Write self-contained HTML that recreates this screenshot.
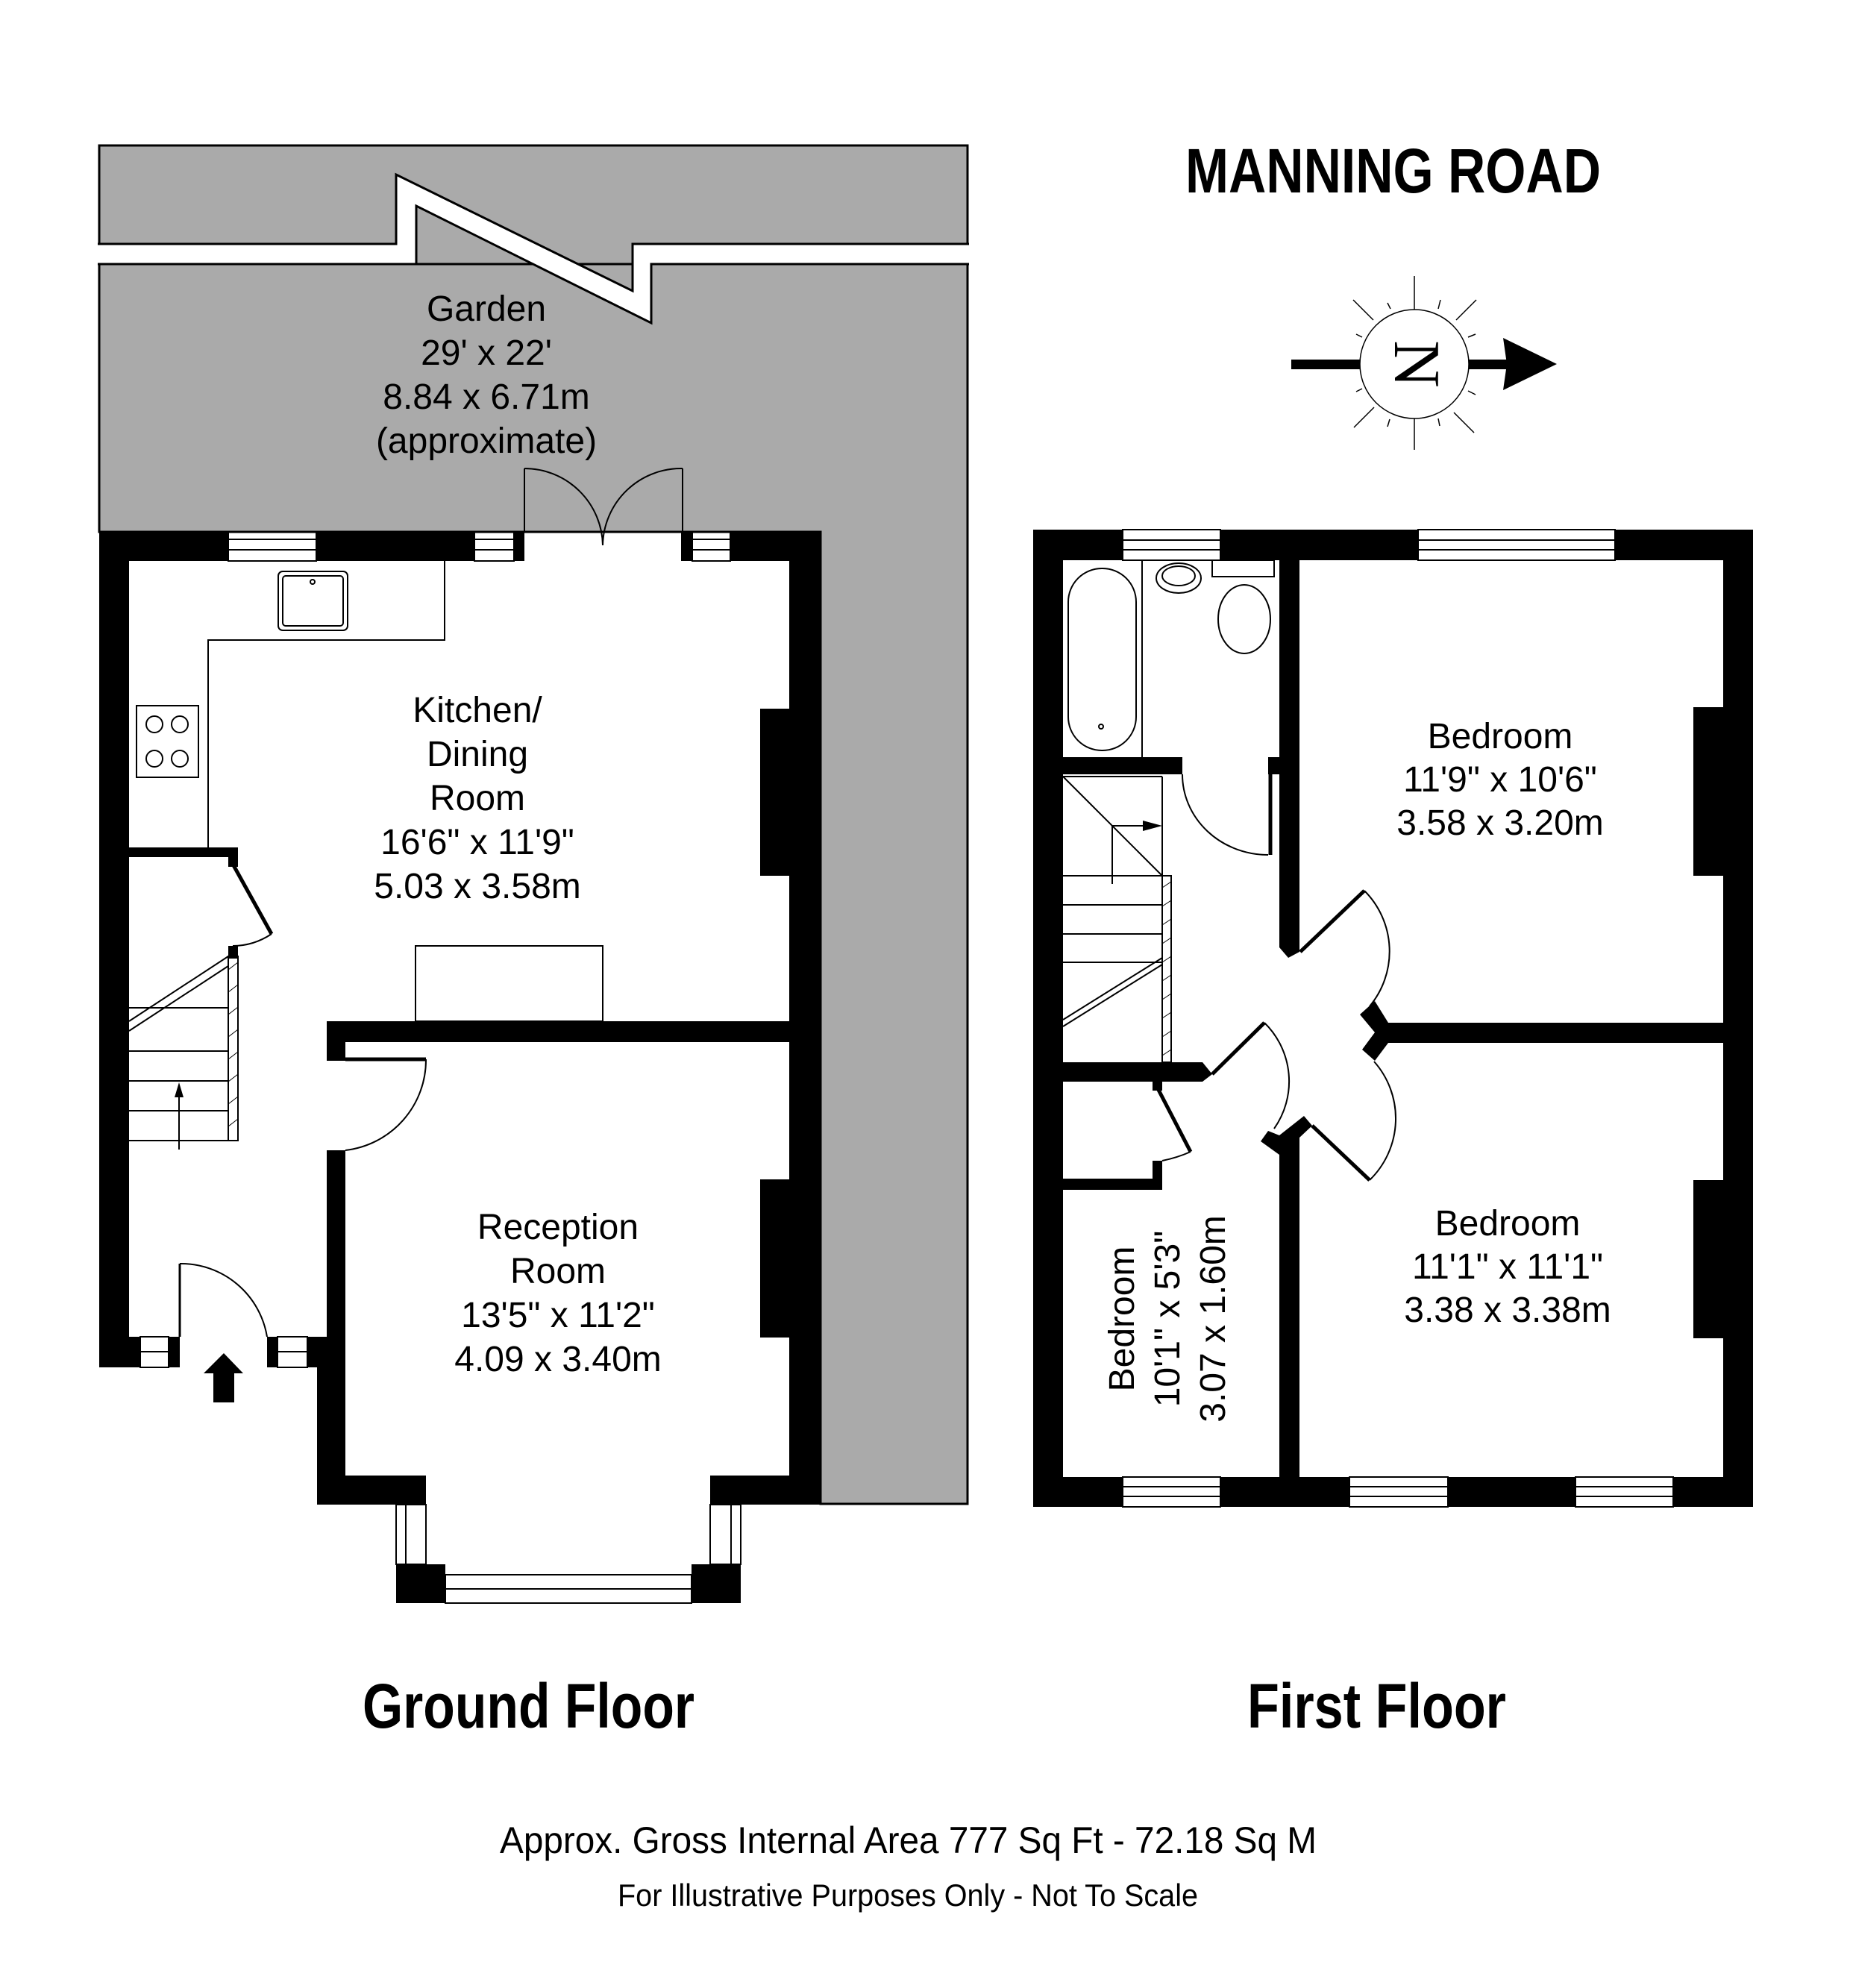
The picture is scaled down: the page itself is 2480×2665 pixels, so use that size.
<!DOCTYPE html>
<html><head><meta charset="utf-8"><style>
html,body{margin:0;padding:0;background:#fff}
svg{display:block}
text{font-family:"Liberation Sans",sans-serif;fill:#000}
</style></head><body>
<svg width="2480" height="2665" viewBox="0 0 2480 2665" xmlns="http://www.w3.org/2000/svg">
<!-- Garden -->
<rect x="133" y="195" width="1164" height="159" fill="#aaa" stroke="#000" stroke-width="3"/>
<path d="M133 354 H1297 V2016 H1100 V713 H133 Z" fill="#aaa" stroke="#000" stroke-width="3"/>
<polygon points="120,327 531,327 531,234 848,390 848,327 1310,327 1310,354 873,354 873,433 558,276 558,354 120,354" fill="#fff" stroke="#000" stroke-width="3"/>
<rect x="100" y="325" width="31" height="32" fill="#fff"/>
<rect x="1299" y="325" width="20" height="32" fill="#fff"/>
<text x="652" y="430" font-size="48" text-anchor="middle">Garden</text>
<text x="652" y="489" font-size="48" text-anchor="middle">29' x 22'</text>
<text x="652" y="548" font-size="48" text-anchor="middle">8.84 x 6.71m</text>
<text x="652" y="607" font-size="48" text-anchor="middle">(approximate)</text>

<g fill="#000">
<rect x="133" y="713" width="173" height="39"/>
<rect x="424" y="713" width="212" height="39"/>
<rect x="689" y="713" width="14" height="39"/>
<rect x="913" y="713" width="15" height="39"/>
<rect x="979" y="713" width="121" height="39"/>
<rect x="133" y="713" width="40" height="1120"/>
<rect x="1058" y="713" width="42" height="1304"/>
<rect x="1019" y="950" width="40" height="224"/>
<rect x="1019" y="1581" width="40" height="212"/>
<rect x="438" y="1369" width="620" height="28"/>
<rect x="438" y="1369" width="25" height="53"/>
<rect x="438" y="1542" width="25" height="252"/>
<rect x="425" y="1792" width="38" height="225"/>
<rect x="133" y="1792" width="55" height="41"/>
<rect x="226" y="1792" width="15" height="41"/>
<rect x="358" y="1792" width="14" height="41"/>
<rect x="412" y="1792" width="51" height="41"/>
<rect x="173" y="1136" width="146" height="13"/>
<rect x="306" y="1136" width="13" height="26"/>
<rect x="306" y="1268" width="13" height="17"/>
<rect x="425" y="1978" width="146" height="39"/>
<rect x="952" y="1978" width="148" height="39"/>
<rect x="531" y="2097" width="66" height="52"/>
<rect x="927" y="2097" width="66" height="52"/>
<polygon points="300,1814 273,1841 286,1841 286,1880 314,1880 314,1841 326,1841"/>
</g>
<g fill="none" stroke="#000" stroke-width="2">
<rect x="306" y="713" width="118" height="39"/><line x1="306" y1="723" x2="424" y2="723"/><line x1="306" y1="737" x2="424" y2="737"/>
<rect x="636" y="713" width="53" height="39"/><line x1="636" y1="723" x2="689" y2="723"/><line x1="636" y1="737" x2="689" y2="737"/>
<rect x="928" y="713" width="51" height="39"/><line x1="928" y1="723" x2="979" y2="723"/><line x1="928" y1="737" x2="979" y2="737"/>
<line x1="703" y1="713" x2="703" y2="628"/><path d="M703 628 A105 105 0 0 1 808 731"/>
<line x1="915" y1="713" x2="915" y2="628"/><path d="M915 628 A105 105 0 0 0 808 731"/>
<polyline points="596,752 596,858 279,858 279,1136"/>
<rect x="373" y="766" width="93" height="79" rx="6"/><rect x="379" y="772" width="81" height="67" rx="4"/>
<circle cx="419" cy="780" r="3"/>
<rect x="183" y="946" width="83" height="96"/>
<circle cx="207" cy="971" r="11"/><circle cx="241" cy="971" r="11"/><circle cx="207" cy="1017" r="11"/><circle cx="241" cy="1017" r="11"/>
<line x1="313" y1="1160" x2="364" y2="1252" stroke-width="5"/>
<path d="M364 1252 Q340 1268 312 1268"/>
<rect x="306" y="1282" width="13" height="247"/>
<line x1="173" y1="1369" x2="306" y2="1282"/><line x1="173" y1="1382" x2="306" y2="1295"/>
<line x1="173" y1="1351" x2="306" y2="1351"/>
<line x1="173" y1="1409" x2="306" y2="1409"/><line x1="173" y1="1449" x2="306" y2="1449"/><line x1="173" y1="1489" x2="306" y2="1489"/><line x1="173" y1="1529" x2="306" y2="1529"/>
<line x1="240" y1="1541" x2="240" y2="1460"/>
<rect x="557" y="1268" width="251" height="101"/>
<line x1="463" y1="1420" x2="571" y2="1420" stroke-width="5"/>
<path d="M571 1420 A122 122 0 0 1 463 1542"/>
<line x1="241" y1="1694" x2="241" y2="1792" stroke-width="3"/>
<path d="M241 1694 A117 117 0 0 1 358 1792"/>
<rect x="188" y="1792" width="38" height="41"/><line x1="188" y1="1812" x2="226" y2="1812"/>
<rect x="372" y="1792" width="40" height="41"/><line x1="372" y1="1812" x2="412" y2="1812"/>
<rect x="531" y="2017" width="40" height="80"/><line x1="544" y1="2017" x2="544" y2="2097"/>
<rect x="952" y="2017" width="41" height="80"/><line x1="980" y1="2017" x2="980" y2="2097"/>
<rect x="597" y="2111" width="330" height="38"/><line x1="597" y1="2130" x2="927" y2="2130"/>
</g>
<polygon points="240,1451 234,1471 246,1471" fill="#000"/>
<g stroke="#000" stroke-width="1">
<line x1="306" y1="1300" x2="319" y2="1290"/><line x1="306" y1="1330" x2="319" y2="1320"/><line x1="306" y1="1360" x2="319" y2="1350"/><line x1="306" y1="1390" x2="319" y2="1380"/><line x1="306" y1="1420" x2="319" y2="1410"/><line x1="306" y1="1450" x2="319" y2="1440"/><line x1="306" y1="1480" x2="319" y2="1470"/><line x1="306" y1="1510" x2="319" y2="1500"/>
</g>
<text x="640" y="968" font-size="48" text-anchor="middle">Kitchen/</text>
<text x="640" y="1027" font-size="48" text-anchor="middle">Dining</text>
<text x="640" y="1086" font-size="48" text-anchor="middle">Room</text>
<text x="640" y="1145" font-size="48" text-anchor="middle">16'6" x 11'9"</text>
<text x="640" y="1204" font-size="48" text-anchor="middle">5.03 x 3.58m</text>
<text x="748" y="1661" font-size="48" text-anchor="middle">Reception</text>
<text x="748" y="1720" font-size="48" text-anchor="middle">Room</text>
<text x="748" y="1779" font-size="48" text-anchor="middle">13'5" x 11'2"</text>
<text x="748" y="1838" font-size="48" text-anchor="middle">4.09 x 3.40m</text>

<!-- First floor -->
<g fill="#000">
<rect x="1385" y="710" width="965" height="41"/>
<rect x="1385" y="710" width="40" height="1310"/>
<rect x="2310" y="710" width="40" height="1310"/>
<rect x="1385" y="1980" width="965" height="40"/>
<rect x="2270" y="948" width="40" height="226"/>
<rect x="2270" y="1582" width="40" height="212"/>
<rect x="1715" y="751" width="27" height="264"/>
<polygon points="1715,1015 1742,1015 1742,1276 1727,1284 1715,1270"/>
<rect x="1700" y="1015" width="15" height="23"/>
<rect x="1425" y="1015" width="160" height="23"/>
<rect x="1861" y="1371" width="449" height="27"/>
<polygon points="1823,1360 1843,1342 1861,1371 1861,1398 1843,1422 1826,1407 1843,1384"/>
<polygon points="1425,1424 1612,1424 1625,1440 1612,1450 1425,1450"/>
<polygon points="1715,1522 1700,1516 1690,1530 1715,1548 1715,2000 1742,2000 1742,1525 1759,1509 1748,1496"/>
<rect x="1425" y="1580" width="133" height="15"/>
<rect x="1545" y="1556" width="13" height="39"/>
<rect x="1545" y="1450" width="13" height="12"/>
</g>
<g fill="#fff" stroke="#000" stroke-width="2">
<rect x="1505" y="710" width="131" height="41"/>
<rect x="1901" y="710" width="264" height="41"/>
<rect x="1505" y="1980" width="131" height="40"/>
<rect x="1809" y="1980" width="132" height="40"/>
<rect x="2112" y="1980" width="131" height="40"/>
</g>
<g fill="none" stroke="#000" stroke-width="2">
<line x1="1505" y1="724" x2="1636" y2="724"/><line x1="1505" y1="737" x2="1636" y2="737"/>
<line x1="1901" y1="724" x2="2165" y2="724"/><line x1="1901" y1="737" x2="2165" y2="737"/>
<line x1="1505" y1="1993" x2="1636" y2="1993"/><line x1="1505" y1="2006" x2="1636" y2="2006"/>
<line x1="1809" y1="1993" x2="1941" y2="1993"/><line x1="1809" y1="2006" x2="1941" y2="2006"/>
<line x1="2112" y1="1993" x2="2243" y2="1993"/><line x1="2112" y1="2006" x2="2243" y2="2006"/>
<rect x="1432" y="762" width="91" height="244" rx="45"/>
<circle cx="1476" cy="974" r="3"/>
<line x1="1531" y1="751" x2="1531" y2="1015"/>
<ellipse cx="1580" cy="775" rx="30" ry="20"/><ellipse cx="1580" cy="772" rx="22" ry="13"/>
<rect x="1625" y="751" width="83" height="22"/>
<ellipse cx="1668" cy="830" rx="35" ry="46"/>
<path d="M1585 1038 A115 108 0 0 0 1700 1146"/>
<line x1="1703" y1="1038" x2="1703" y2="1146" stroke-width="5"/>
<line x1="1425" y1="1041" x2="1558" y2="1041"/>
<line x1="1558" y1="1041" x2="1558" y2="1174"/>
<line x1="1425" y1="1041" x2="1558" y2="1174"/>
<line x1="1491" y1="1185" x2="1491" y2="1107"/><line x1="1491" y1="1107" x2="1540" y2="1107"/>
<line x1="1425" y1="1174" x2="1570" y2="1174"/><line x1="1425" y1="1213" x2="1558" y2="1213"/><line x1="1425" y1="1252" x2="1558" y2="1252"/><line x1="1425" y1="1290" x2="1558" y2="1290"/>
<rect x="1558" y="1174" width="12" height="250"/>
<line x1="1425" y1="1367" x2="1558" y2="1284"/><line x1="1425" y1="1376" x2="1558" y2="1293"/>
<line x1="1743" y1="1276" x2="1829" y2="1194" stroke-width="5"/>
<path d="M1829 1194 A115 115 0 0 1 1836 1349"/>
<line x1="1759" y1="1509" x2="1836" y2="1582" stroke-width="5"/>
<path d="M1836 1582 A115 115 0 0 0 1842 1423"/>
<line x1="1625" y1="1440" x2="1695" y2="1371" stroke-width="5"/>
<path d="M1695 1371 A110 110 0 0 1 1708 1513"/>
<line x1="1553" y1="1461" x2="1596" y2="1544" stroke-width="5"/>
<path d="M1596 1544 Q1578 1552 1558 1556"/>
</g>
<polygon points="1558,1107 1532,1100 1532,1114" fill="#000"/>
<g stroke="#000" stroke-width="1">
<line x1="1558" y1="1190" x2="1570" y2="1182"/><line x1="1558" y1="1215" x2="1570" y2="1207"/><line x1="1558" y1="1240" x2="1570" y2="1232"/><line x1="1558" y1="1265" x2="1570" y2="1257"/><line x1="1558" y1="1290" x2="1570" y2="1282"/><line x1="1558" y1="1315" x2="1570" y2="1307"/><line x1="1558" y1="1340" x2="1570" y2="1332"/><line x1="1558" y1="1365" x2="1570" y2="1357"/><line x1="1558" y1="1390" x2="1570" y2="1382"/><line x1="1558" y1="1415" x2="1570" y2="1407"/>
</g>
<text x="2011" y="1003" font-size="48" text-anchor="middle">Bedroom</text>
<text x="2011" y="1061" font-size="48" text-anchor="middle">11'9" x 10'6"</text>
<text x="2011" y="1119" font-size="48" text-anchor="middle">3.58 x 3.20m</text>
<text x="2021" y="1656" font-size="48" text-anchor="middle">Bedroom</text>
<text x="2021" y="1714" font-size="48" text-anchor="middle">11'1" x 11'1"</text>
<text x="2021" y="1772" font-size="48" text-anchor="middle">3.38 x 3.38m</text>
<g transform="translate(1520,1768) rotate(-90)"><text x="0" y="0" font-size="48" text-anchor="middle">Bedroom</text></g>
<g transform="translate(1581,1768) rotate(-90)"><text x="0" y="0" font-size="48" text-anchor="middle">10'1" x 5'3"</text></g>
<g transform="translate(1642,1768) rotate(-90)"><text x="0" y="0" font-size="48" text-anchor="middle">3.07 x 1.60m</text></g>

<!-- Compass -->
<g stroke="#000">
<rect x="1731" y="482" width="95" height="13" fill="#000" stroke="none"/>
<rect x="1966" y="482" width="55" height="13" fill="#000" stroke="none"/>
<polygon points="2087,488 2015,453 2020,488 2015,523" fill="#000" stroke="none"/>
<circle cx="1896" cy="488" r="73" fill="#fff" stroke-width="1.5"/>
<line x1="1896" y1="370" x2="1896" y2="415" stroke-width="1.5"/>
<line x1="1896" y1="561" x2="1896" y2="603" stroke-width="1.5"/>
<line x1="1814" y1="402" x2="1841" y2="429" stroke-width="1.5"/>
<line x1="1979" y1="402" x2="1952" y2="429" stroke-width="1.5"/>
<line x1="1815" y1="573" x2="1842" y2="546" stroke-width="1.5"/>
<line x1="1976" y1="580" x2="1949" y2="553" stroke-width="1.5"/>
<line x1="1860" y1="406" x2="1864" y2="414" stroke-width="1.5"/>
<line x1="1931" y1="402" x2="1928" y2="414" stroke-width="1.5"/>
<line x1="1860" y1="572" x2="1863" y2="562" stroke-width="1.5"/>
<line x1="1930" y1="571" x2="1928" y2="561" stroke-width="1.5"/>
<line x1="1818" y1="448" x2="1826" y2="452" stroke-width="1.5"/>
<line x1="1968" y1="452" x2="1978" y2="448" stroke-width="1.5"/>
<line x1="1818" y1="525" x2="1826" y2="521" stroke-width="1.5"/>
<line x1="1968" y1="524" x2="1978" y2="529" stroke-width="1.5"/>
</g>
<g transform="translate(1896,488) rotate(90)"><text x="0" y="26" font-size="88" text-anchor="middle" style="font-family:'Liberation Serif',serif">N</text></g>

<text x="1589" y="258" font-size="84" font-weight="bold" textLength="557" lengthAdjust="spacingAndGlyphs">MANNING ROAD</text>
<text x="486" y="2316" font-size="84" font-weight="bold" textLength="445" lengthAdjust="spacingAndGlyphs">Ground Floor</text>
<text x="1672" y="2316" font-size="84" font-weight="bold" textLength="347" lengthAdjust="spacingAndGlyphs">First Floor</text>
<text x="670" y="2484" font-size="50" textLength="1095" lengthAdjust="spacingAndGlyphs">Approx. Gross Internal Area 777 Sq Ft - 72.18 Sq M</text>
<text x="828" y="2555" font-size="42" textLength="778" lengthAdjust="spacingAndGlyphs">For Illustrative Purposes Only - Not To Scale</text>
</svg>
</body></html>
